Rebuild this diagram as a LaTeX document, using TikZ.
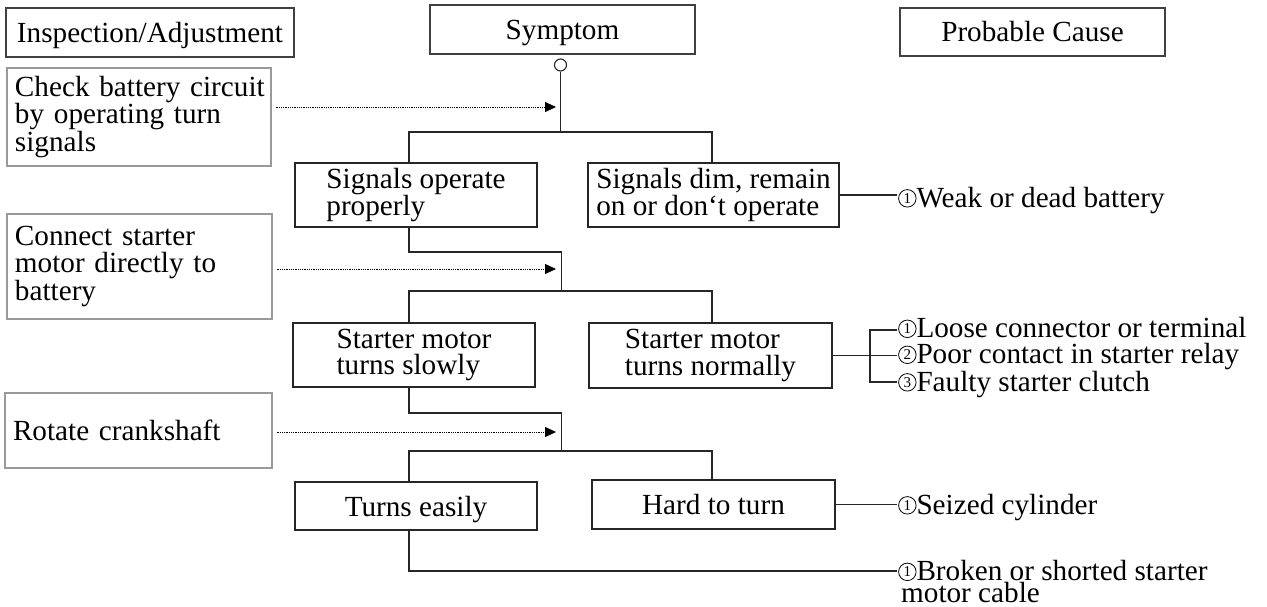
\documentclass[tikz,border=0pt]{standalone}
\usepackage{fontspec}
\setmainfont{Liberation Serif}
\usetikzlibrary{arrows.meta}
\newcommand\cnum[1]{\tikz[baseline={([yshift=0.5pt]cn.south)}]\node[circle, draw, line width=0.8pt, inner sep=0pt, minimum size=17.5pt, font=\fontsize{15}{15}\selectfont] (cn) {#1};}
\begin{document}
\begin{tikzpicture}[x=1pt,y=-1pt,
  txt/.style={font=\fontsize{29.2}{26.5}\selectfont},
  hdr/.style={txt, draw=black!75, line width=1.2pt, inner sep=0pt},
  insp/.style={txt, draw=black!40, line width=1.3pt, inner xsep=8pt, inner ysep=0pt, align=left},
  sym/.style={txt, draw=black!85, line width=1.2pt, inner sep=0pt, align=left},
  cause/.style={txt, anchor=base west, inner sep=0pt, align=left},
  conn/.style={draw=black!85, line width=1.2pt},
  dotarrow/.style={line width=0.8pt, dash pattern=on 0.9pt off 0.9pt, -{Triangle[length=11pt,width=10pt]}, shorten <=4pt}
]
\useasboundingbox (0,0) rectangle (1267,606);

% header boxes
\node[hdr, text depth=0pt, minimum width=288pt, minimum height=49pt] (hinsp) at (150,32.5) {Inspection/Adjustment};
\node[hdr, text depth=0pt, minimum width=265pt, minimum height=49pt] (hsym) at (562.5,29.5) {Symptom};
\node[hdr, minimum width=265pt, minimum height=48pt] (hcause) at (1032.5,32) {Probable Cause};

% inspection boxes
\node[insp, text width=248pt, minimum height=98pt] (check) at (139,117) {\mbox{Check battery circuit}\\\mbox{by operating turn}\\signals};
\node[insp, text width=249pt, minimum height=105pt] (connect) at (139.5,266.5) {\mbox{Connect starter}\\\mbox{motor directly to}\\battery};
\node[insp, text width=251pt, minimum height=75pt] (rotate) at (138.5,430.5) {\mbox{Rotate crankshaft}};

% symptom boxes
\node[sym, minimum width=242pt, minimum height=64pt] (sop) at (416,195) {Signals operate\\properly};
\node[sym, minimum width=251pt, minimum height=64pt] (sdim) at (713.5,195) {Signals dim, remain\\on or don‘t operate};
\node[sym, minimum width=242pt, minimum height=64pt] (sms) at (414,355) {Starter motor\\turns slowly};
\node[sym, minimum width=243pt, minimum height=65pt] (smn) at (710.5,355.5) {Starter motor\\turns normally};
\node[sym, text depth=0pt, minimum width=242pt, minimum height=48pt] (te) at (416,506) {Turns easily};
\node[sym, minimum width=243pt, minimum height=49pt] (htt) at (713.5,504.5) {Hard to turn};

% start circle
\node[circle, draw=black!85, line width=1.1pt, minimum size=12pt, inner sep=0pt] (circ) at (560.5,65) {};

% probable causes
\node[cause] (c1) at (898,207) {\cnum{1}Weak or dead battery};
\node[cause, font=\fontsize{29.2}{26}\selectfont] (c2) at (898,391) {\cnum{1}Loose connector or terminal\\\cnum{2}Poor contact in starter relay\\\cnum{3}Faulty starter clutch};
\node[cause] (c5) at (898,514) {\cnum{1}Seized cylinder};
\node[cause, font=\fontsize{29.2}{21.5}\selectfont] (c6) at (898,602) {\cnum{1}Broken or shorted starter\\\hspace*{3pt}motor cable};

% helper coordinates
\coordinate (L) at (409,0);
\coordinate (R) at (712,0);
\coordinate (j1) at (560.5,132);
\coordinate (j2a) at (561.5,252);
\coordinate (j2) at (561.5,291);
\coordinate (j3a) at (561.5,413);
\coordinate (j3) at (561.5,451);
\coordinate (a1) at (556,107);
\coordinate (a2) at (556,269);
\coordinate (a3) at (556,432);
\coordinate (k1) at (897,330);
\coordinate (k3) at (897,382);
\coordinate (b0) at (870,0);
\coordinate (e1) at (897,196);
\coordinate (e5) at (897,571);

% tree connectors
\draw[conn] (circ.south) -- (j1);
\draw[conn] (L |- sop.north) |- (j1) -| (R |- sdim.north);
\draw[conn] (L |- sop.south) |- (j2a) -- (j2);
\draw[conn] (L |- sms.north) |- (j2) -| (R |- smn.north);
\draw[conn] (L |- sms.south) |- (j3a) -- (j3);
\draw[conn] (L |- te.north) |- (j3) -| (R |- htt.north);
\draw[conn] (L |- te.south) |- (e5);

% cause connectors
\draw[conn] (sdim.east) -- (sdim.east -| e1);
\draw[conn] (smn.east) -- (smn.east -| k1);
\draw[conn] (k1) -| (b0 |- k3) -- (k3);
\draw[conn] (htt.east) -- (htt.east -| k1);

% dotted arrows
\draw[dotarrow] (check.east |- a1) -- (a1);
\draw[dotarrow] (connect.east |- a2) -- (a2);
\draw[dotarrow] (rotate.east |- a3) -- (a3);
\end{tikzpicture}
\end{document}
